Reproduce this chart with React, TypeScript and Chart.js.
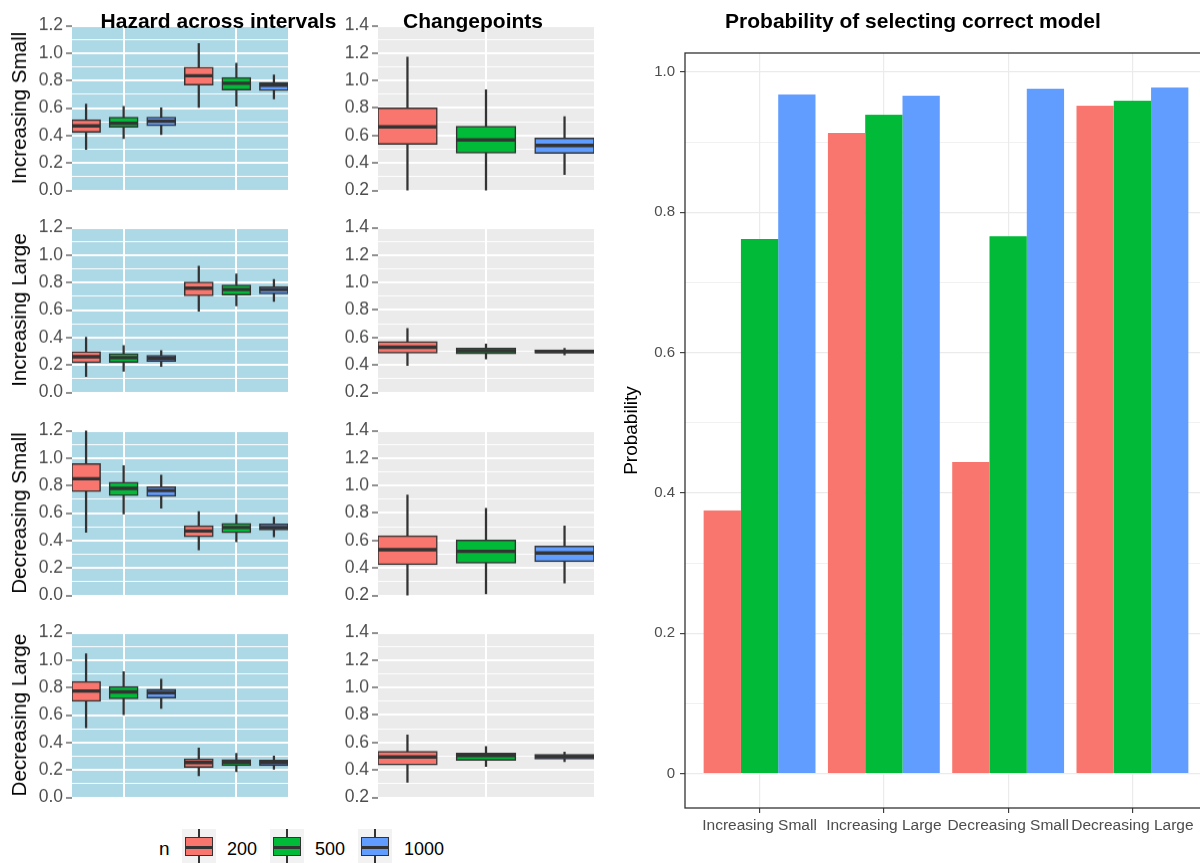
import React, { useEffect, useRef } from 'react';
import { Chart, registerables } from 'chart.js';

Chart.register(...registerables);

const FONT = "'Liberation Sans', Arial, sans-serif";
Chart.defaults.font.family = FONT;

// ---------- data ----------
const scenarios = ['Increasing Small', 'Increasing Large', 'Decreasing Small', 'Decreasing Large'];
const sampleSizes = ['200', '500', '1000'];
const nColors = ['#F8766D', '#00BA38', '#619CFF'];
const intervals = [1, 2];
const hazardTicks = [0.0, 0.2, 0.4, 0.6, 0.8, 1.0, 1.2];
const changeTicks = [0.2, 0.4, 0.6, 0.8, 1.0, 1.2, 1.4];
const probTicks = [0, 0.2, 0.4, 0.6, 0.8, 1.0];

// Hazard boxes per scenario: [int1 n200, int1 n500, int1 n1000, int2 n200, int2 n500, int2 n1000]
const hazardLower = [
  [0.298, 0.377, 0.406, 0.604, 0.613, 0.666],
  [0.115, 0.155, 0.189, 0.592, 0.630, 0.663],
  [0.460, 0.593, 0.636, 0.331, 0.390, 0.426],
  [0.507, 0.603, 0.648, 0.158, 0.187, 0.206],
];
const hazardQ1 = [
  [0.427, 0.463, 0.473, 0.771, 0.733, 0.730],
  [0.220, 0.222, 0.229, 0.706, 0.711, 0.721],
  [0.760, 0.729, 0.724, 0.429, 0.460, 0.479],
  [0.703, 0.720, 0.727, 0.222, 0.234, 0.234],
];
const hazardMedian = [
  [0.470, 0.489, 0.504, 0.835, 0.780, 0.766],
  [0.260, 0.253, 0.248, 0.759, 0.749, 0.749],
  [0.850, 0.779, 0.764, 0.469, 0.495, 0.495],
  [0.775, 0.768, 0.763, 0.254, 0.256, 0.254],
];
const hazardQ3 = [
  [0.513, 0.530, 0.530, 0.895, 0.819, 0.783],
  [0.294, 0.279, 0.267, 0.802, 0.780, 0.768],
  [0.957, 0.821, 0.788, 0.505, 0.521, 0.517],
  [0.842, 0.804, 0.785, 0.278, 0.273, 0.268],
];
const hazardUpper = [
  [0.628, 0.613, 0.601, 1.069, 0.926, 0.840],
  [0.401, 0.341, 0.305, 0.919, 0.862, 0.823],
  [1.210, 0.945, 0.876, 0.610, 0.588, 0.571],
  [1.045, 0.916, 0.861, 0.359, 0.321, 0.301],
];

// Changepoint boxes per scenario: [n200, n500, n1000]
const cpLower = [
  [0.190, 0.190, 0.315],
  [0.396, 0.443, 0.474],
  [0.190, 0.212, 0.291],
  [0.310, 0.425, 0.461],
];
const cpQ1 = [
  [0.539, 0.474, 0.472],
  [0.489, 0.484, 0.489],
  [0.427, 0.437, 0.449],
  [0.439, 0.473, 0.482],
];
const cpMedian = [
  [0.663, 0.568, 0.527],
  [0.529, 0.503, 0.498],
  [0.533, 0.521, 0.509],
  [0.494, 0.506, 0.497],
];
const cpQ3 = [
  [0.799, 0.665, 0.579],
  [0.568, 0.520, 0.508],
  [0.631, 0.600, 0.556],
  [0.533, 0.521, 0.511],
];
const cpUpper = [
  [1.171, 0.933, 0.737],
  [0.665, 0.553, 0.522],
  [0.932, 0.834, 0.707],
  [0.655, 0.571, 0.530],
];

// Probability of selecting correct model
const probN200 = [0.375, 0.913, 0.444, 0.952];
const probN500 = [0.762, 0.939, 0.766, 0.959];
const probN1000 = [0.968, 0.966, 0.976, 0.978];

// ---------- helpers ----------
const isMajorOf = (list: number[]) => (v: number) => list.some((t) => Math.abs(t - v) < 1e-6);

const panelPlugin = {
  id: 'panelDecor',
  beforeDraw(chart: any, _a: any, opts: any) {
    if (!opts || !opts.bg) return;
    const { ctx, chartArea: a } = chart;
    ctx.save();
    ctx.fillStyle = opts.bg;
    ctx.fillRect(a.left, a.top, a.right - a.left, a.bottom - a.top);
    ctx.restore();
  },
  afterDatasetsDraw(chart: any, _a: any, opts: any) {
    if (!opts || !opts.medians) return;
    const { ctx, chartArea: a } = chart;
    const meta = chart.getDatasetMeta(opts.boxIndex);
    const ys = chart.scales.y;
    ctx.save();
    ctx.beginPath();
    ctx.rect(a.left, a.top, a.right - a.left, a.bottom - a.top);
    ctx.clip();
    ctx.strokeStyle = '#333333';
    ctx.lineWidth = 3.4;
    meta.data.forEach((el: any, i: number) => {
      const { x, width } = el.getProps(['x', 'width'], true);
      const py = ys.getPixelForValue(opts.medians[i]);
      ctx.beginPath();
      ctx.moveTo(x - width / 2, py);
      ctx.lineTo(x + width / 2, py);
      ctx.stroke();
    });
    ctx.restore();
  },
  afterDraw(chart: any, _a: any, opts: any) {
    if (!opts || !opts.border) return;
    const { ctx, chartArea: a } = chart;
    ctx.save();
    ctx.strokeStyle = opts.border;
    ctx.lineWidth = 1.3;
    ctx.strokeRect(a.left, a.top, a.right - a.left, a.bottom - a.top);
    ctx.restore();
  },
};

function useChart(ref: React.RefObject<HTMLCanvasElement>, build: () => any) {
  useEffect(() => {
    if (!ref.current) return;
    const chart = new Chart(ref.current, build());
    return () => chart.destroy();
  }, []);
}

type BoxProps = {
  left: number; top: number; width: number; height: number; axisWidth: number;
  yMin: number; yMax: number; majors: number[];
  positions: number[]; gridX: number[]; xMin: number; xMax: number;
  lower: number[]; q1: number[]; med: number[]; q3: number[]; upper: number[];
  bg: string; title?: string;
};

const PAD = 12;

function BoxPanel(p: BoxProps) {
  const ref = useRef<HTMLCanvasElement>(null);
  useChart(ref, () => {
    const isMajor = isMajorOf(p.majors);
    return {
      type: 'bar',
      data: {
        datasets: [
          {
            label: 'whisker',
            data: p.positions.map((x, i) => ({ x, y: [p.lower[i], p.upper[i]] })),
            backgroundColor: '#333333',
            borderWidth: 0,
            barThickness: 1.6,
            grouped: false,
            order: 2,
          },
          {
            label: 'box',
            data: p.positions.map((x, i) => ({ x, y: [p.q1[i], p.q3[i]] })),
            backgroundColor: p.positions.map((_, i) => nColors[i % 3]),
            borderColor: '#333333',
            borderWidth: 1.5,
            borderSkipped: false,
            grouped: false,
            order: 1,
            categoryPercentage: 0.75,
            barPercentage: 1,
            inflateAmount: 0.75,
          },
        ],
      },
      options: {
        responsive: false,
        animation: false,
        devicePixelRatio: 1,
        layout: { padding: { top: PAD, bottom: PAD, left: 0, right: 2 } },
        scales: {
          x: {
            type: 'linear',
            min: p.xMin,
            max: p.xMax,
            offset: false,
            afterBuildTicks: (s: any) => { s.ticks = p.gridX.map((v) => ({ value: v })); },
            ticks: { display: false },
            grid: { color: '#FFFFFF', lineWidth: 2, drawTicks: false, offset: false },
            border: { display: false },
            afterFit: (s: any) => { s.height = 0; },
          },
          y: {
            type: 'linear',
            min: p.yMin,
            max: p.yMax,
            afterFit: (s: any) => { s.width = p.axisWidth; },
            ticks: {
              stepSize: 0.1,
              autoSkip: false,
              includeBounds: false,
              padding: 3,
              color: '#4D4D4D',
              font: { size: 17.5 },
              callback: (v: any) => (isMajor(Number(v)) ? Number(v).toFixed(1) : ''),
            },
            grid: {
              color: '#FFFFFF',
              lineWidth: (c: any) => (c.tick && isMajor(c.tick.value) ? 2 : 1),
              tickColor: (c: any) => (c.tick && isMajor(c.tick.value) ? '#333333' : 'rgba(0,0,0,0)'),
              tickLength: 6,
              tickWidth: 1.1,
            },
            border: { display: false },
            title: {
              display: !!p.title,
              text: p.title || '',
              color: '#000000',
              font: { size: 20.5 },
              padding: { top: 8, bottom: 0 },
            },
          },
        },
        plugins: {
          legend: { display: false },
          tooltip: { enabled: false },
          panelDecor: { bg: p.bg, medians: p.med, boxIndex: 1 },
        },
      },
      plugins: [panelPlugin],
    };
  });
  return (
    <canvas
      ref={ref}
      width={p.width}
      height={p.height}
      style={{ position: 'absolute', left: p.left, top: p.top, width: p.width, height: p.height }}
    />
  );
}

function ProbChart() {
  const ref = useRef<HTMLCanvasElement>(null);
  useChart(ref, () => {
    const isMajor = isMajorOf(probTicks);
    const probs = [probN200, probN500, probN1000];
    return {
      type: 'bar',
      data: {
        datasets: sampleSizes.map((n, k) => ({
          label: n,
          data: probs[k].map((v, i) => ({ x: i + 1, y: v })),
          backgroundColor: nColors[k],
          borderWidth: 0,
          categoryPercentage: 0.9,
          barPercentage: 1,
        })),
      },
      options: {
        responsive: false,
        animation: false,
        devicePixelRatio: 1,
        layout: { padding: { top: 53, right: 3, bottom: 0, left: 0 } },
        scales: {
          x: {
            type: 'linear',
            min: 0.4,
            max: 4.6,
            offset: false,
            afterBuildTicks: (s: any) => { s.ticks = scenarios.map((_, i) => ({ value: i + 1 })); },
            ticks: {
              autoSkip: false,
              maxRotation: 0,
              minRotation: 0,
              padding: 3,
              color: '#4D4D4D',
              font: { size: 15.5 },
              callback: (v: any) => scenarios[Math.round(Number(v)) - 1] ?? '',
            },
            grid: { color: '#EBEBEB', lineWidth: 1.2, tickColor: '#333333', tickLength: 5, tickWidth: 1.1, offset: false },
            border: { display: false },
            afterFit: (s: any) => { s.height = 55; },
          },
          y: {
            type: 'linear',
            min: -0.049,
            max: 1.027,
            afterFit: (s: any) => { s.width = 75; },
            ticks: {
              stepSize: 0.1,
              includeBounds: false,
              autoSkip: false,
              padding: 5,
              color: '#4D4D4D',
              font: { size: 15 },
              callback: (v: any) => {
                const n = Number(v);
                if (!isMajor(n)) return '';
                return Math.abs(n) < 1e-9 ? '0' : n.toFixed(1);
              },
            },
            grid: {
              color: '#EBEBEB',
              lineWidth: (c: any) => (c.tick && isMajor(c.tick.value) ? 1.3 : 0.7),
              tickColor: (c: any) => (c.tick && isMajor(c.tick.value) ? '#333333' : 'rgba(0,0,0,0)'),
              tickLength: 5,
              tickWidth: 1.1,
            },
            border: { display: false },
            title: {
              display: true,
              text: 'Probability',
              color: '#000000',
              font: { size: 19 },
              padding: { top: 10.6, bottom: 0 },
            },
          },
        },
        plugins: {
          legend: { display: false },
          tooltip: { enabled: false },
          panelDecor: { border: '#333333' },
        },
      },
      plugins: [panelPlugin],
    };
  });
  return (
    <canvas
      ref={ref}
      width={600}
      height={863}
      style={{ position: 'absolute', left: 610, top: 0, width: 600, height: 863 }}
    />
  );
}

function Text({ x, baseline, size, bold, align = 'center', children }: any) {
  const top = baseline - 0.8465 * size;
  const style: any = {
    position: 'absolute',
    top,
    fontFamily: FONT,
    fontSize: size,
    lineHeight: `${size}px`,
    fontWeight: bold ? 'bold' : 'normal',
    color: '#000',
    whiteSpace: 'nowrap',
  };
  if (align === 'center') {
    style.left = x - 300;
    style.width = 600;
    style.textAlign = 'center';
  } else {
    style.left = x;
  }
  return <div style={style}>{children}</div>;
}

function LegendKey({ left, color }: { left: number; color: string }) {
  return (
    <div style={{ position: 'absolute', left, top: 829, width: 34, height: 34, background: '#F2F2F2' }}>
      <div style={{ position: 'absolute', left: 16, top: 0, width: 1.6, height: 34, background: '#333333' }} />
      <div
        style={{
          position: 'absolute', left: 3, top: 8, width: 28, height: 19, background: color,
          border: '1.5px solid #333333', boxSizing: 'border-box',
        }}
      />
      <div style={{ position: 'absolute', left: 3, top: 17, width: 28, height: 3, background: '#333333' }} />
    </div>
  );
}

const panelTops = [24, 226, 429, 631];
const PANEL_H = 167.5;

export default function App() {
  const dodge = [-1 / 3, 0, 1 / 3];
  const hazardPositions = intervals.flatMap((c) => dodge.map((d) => c + d));
  const cpPositions = dodge.map((d) => 1 + d);
  const legendLefts = [182, 270, 358];
  const legendTextLefts = [227, 315, 404];
  return (
    <div style={{ position: 'fixed', left: 0, top: 0, width: 1200, height: 863, overflow: 'hidden', background: '#FFFFFF' }}>
      {scenarios.map((s, r) => (
        <React.Fragment key={s}>
          <BoxPanel
            left={0}
            top={panelTops[r] - PAD}
            width={290}
            height={PANEL_H + 2 * PAD}
            axisWidth={72}
            yMin={0}
            yMax={1.2}
            majors={hazardTicks}
            positions={hazardPositions}
            gridX={intervals}
            xMin={2 / 3 - 0.125}
            xMax={2 + 1 / 3 + 0.125}
            lower={hazardLower[r]}
            q1={hazardQ1[r]}
            med={hazardMedian[r]}
            q3={hazardQ3[r]}
            upper={hazardUpper[r]}
            bg="#ADD8E6"
            title={s}
          />
          <BoxPanel
            left={300}
            top={panelTops[r] - PAD}
            width={296}
            height={PANEL_H + 2 * PAD}
            axisWidth={78}
            yMin={0.2}
            yMax={1.4}
            majors={changeTicks}
            positions={cpPositions}
            gridX={[1]}
            xMin={2 / 3 - 0.125}
            xMax={4 / 3 + 0.125}
            lower={cpLower[r]}
            q1={cpQ1[r]}
            med={cpMedian[r]}
            q3={cpQ3[r]}
            upper={cpUpper[r]}
            bg="#EBEBEB"
          />
        </React.Fragment>
      ))}
      <ProbChart />
      <Text x={218.5} baseline={27.3} size={21} bold>Hazard across intervals</Text>
      <Text x={473} baseline={27.3} size={21} bold>Changepoints</Text>
      <Text x={913} baseline={28} size={21} bold>Probability of selecting correct model</Text>
      <Text x={159} baseline={855} size={19} align="left">n</Text>
      {sampleSizes.map((n, k) => (
        <React.Fragment key={n}>
          <LegendKey left={legendLefts[k]} color={nColors[k]} />
          <Text x={legendTextLefts[k]} baseline={855} size={18} align="left">{n}</Text>
        </React.Fragment>
      ))}
    </div>
  );
}
